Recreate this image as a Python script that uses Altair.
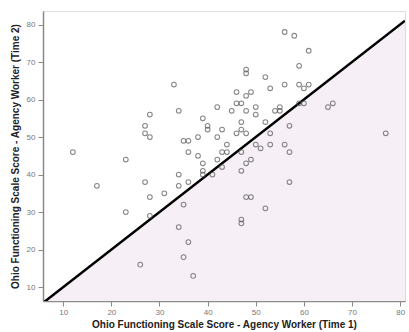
import altair as alt
import pandas as pd

# Time 1 (x) and Time 2 (y) scores
time1 = [12, 17, 23, 23, 26, 27, 27, 27, 28, 28, 28, 28, 31, 33, 34, 34, 34, 34,
         35, 35, 35, 36, 36, 36, 36, 37, 38, 38, 39, 39, 39, 39, 40, 40, 41, 42,
         42, 42, 43, 43, 43, 44, 44, 45, 46, 46, 46, 47, 47, 47, 47, 47, 47, 47,
         48, 48, 48, 48, 48, 48, 48, 49, 49, 49, 50, 50, 50, 51, 52, 52, 52, 53,
         53, 53, 54, 55, 55, 56, 56, 56, 57, 57, 57, 58, 59, 59, 59, 60, 60, 61,
         61, 65, 66, 77]
time2 = [46, 37, 44, 30, 16, 53, 51, 38, 56, 50, 34, 29, 35, 64, 57, 40, 37, 26,
         49, 32, 18, 49, 46, 38, 22, 13, 50, 45, 55, 43, 41, 40, 53, 52, 40, 58,
         50, 44, 52, 46, 42, 48, 46, 57, 62, 59, 51, 59, 54, 52, 46, 41, 28, 27,
         68, 67, 61, 57, 51, 43, 34, 62, 44, 34, 58, 56, 48, 47, 66, 54, 31, 63,
         51, 48, 57, 58, 57, 78, 64, 48, 53, 46, 38, 77, 69, 64, 59, 63, 59, 73,
         64, 58, 59, 51]

tick_values = [10, 20, 30, 40, 50, 60, 70, 80]
x_domain = [5.8, 81.0]
y_domain = [6.3, 83.6]

x_title = "Ohio Functioning Scale Score - Agency Worker (Time 1)"
y_title = "Ohio Functioning Scale Score - Agency Worker (Time 2)"

df = pd.DataFrame({"t1": time1, "t2": time2})
diag = pd.DataFrame({"t1": x_domain, "t2": x_domain})

xs = alt.Scale(domain=x_domain, nice=False, zero=False)
ys = alt.Scale(domain=y_domain, nice=False, zero=False)

axis_common = dict(
    values=tick_values, grid=False, domainColor="#8a8a8a", domainWidth=1.5,
    tickColor="#8a8a8a", tickSize=5, labelColor="#777777", labelFontSize=8,
    labelFont="Liberation Sans", titleFont="Liberation Sans", titleFontSize=10,
    titleFontWeight="bold", titleColor="#222222",
)
xaxis = alt.Axis(title=x_title, labelPadding=2, titlePadding=3, **axis_common)
yaxis = alt.Axis(title=y_title, labelPadding=3, titlePadding=6, **axis_common)

X = alt.X("t1:Q", scale=xs, axis=xaxis)
Y = alt.Y("t2:Q", scale=ys, axis=yaxis)

area = alt.Chart(diag).mark_area(color="#f6f0f6", clip=True).encode(
    x=X, y=Y, y2=alt.datum(y_domain[0])
)
line = alt.Chart(diag).mark_line(color="#000000", strokeWidth=2.5, clip=True).encode(
    x=X, y=Y
)
points = alt.Chart(df).mark_point(
    shape="circle", filled=False, color="#555555", size=22, strokeWidth=1.1
).encode(x=X, y=Y)

chart = alt.layer(area, line, points).properties(
    width=362, height=290,
    autosize=alt.AutoSizeParams(type="none"),
    padding={"left": 43, "top": 11, "right": 4, "bottom": 31},
).configure_view(stroke="#c8c8c8", strokeWidth=1).configure(background="white")

chart.save("out.html", embed_options={"renderer": "svg", "actions": False})
